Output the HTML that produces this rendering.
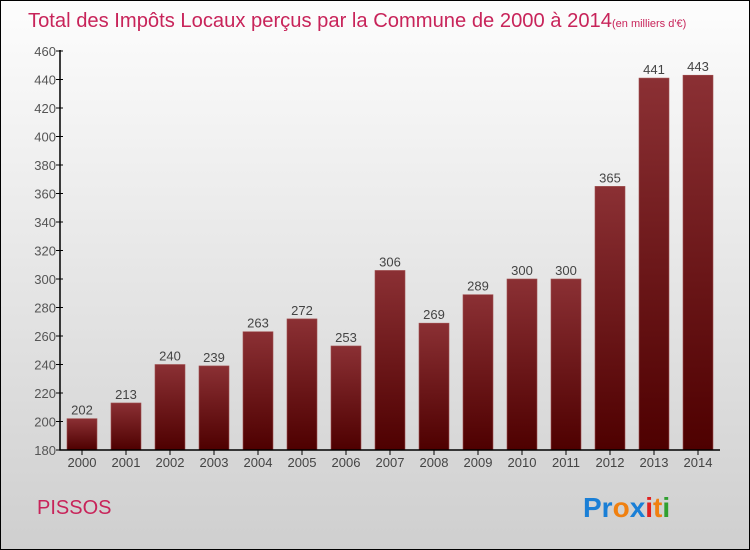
<!DOCTYPE html>
<html><head><meta charset="utf-8"><style>
body{margin:0;width:750px;height:550px;overflow:hidden;font-family:"Liberation Sans",sans-serif}
#wrap{position:absolute;left:0;top:0;width:748px;height:548px;border:1px solid #000;background:linear-gradient(#fdfdfd,#cfcfcf)}
</style></head><body>
<div id="wrap">
<svg width="750" height="550" style="position:absolute;left:-1px;top:-1px" id="svg">
<defs><linearGradient id="bg" x1="0" y1="0" x2="0" y2="1"><stop offset="0" stop-color="#8b3034"/><stop offset="1" stop-color="#4e0000"/></linearGradient></defs>
<text x="28" y="27" font-size="20.5" fill="#c8245a"><tspan textLength="584" lengthAdjust="spacingAndGlyphs">Total des Impôts Locaux perçus par la Commune de 2000 à 2014</tspan><tspan font-size="11">(en milliers d'€)</tspan></text>
<text x="37" y="514" font-size="20" fill="#c8245a">PISSOS</text>
<text x="583" y="517" font-size="28" font-weight="bold"><tspan fill="#1a7fd6">Pr</tspan><tspan fill="#f08010">o</tspan><tspan fill="#1a7fd6">x</tspan><tspan fill="#e02020">i</tspan><tspan fill="#f08010">t</tspan><tspan fill="#30a030">i</tspan></text>
<g id="g"></g>
</svg></div>
<script>
const years=["2000","2001","2002","2003","2004","2005","2006","2007","2008","2009","2010","2011","2012","2013","2014"];
const values=[202,213,240,239,263,272,253,306,269,289,300,300,365,441,443];
const ticks=[180,200,220,240,260,280,300,320,340,360,380,400,420,440,460];
const NS="http://www.w3.org/2000/svg",g=document.getElementById('g');
const y=v=>450-(v-180)*(399/280), x=i=>82+i*44;
function mk(t,a,txt){const e=document.createElementNS(NS,t);for(const k in a)e.setAttribute(k,a[k]);if(txt!=null)e.textContent=txt;g.appendChild(e);return e;}
ticks.forEach(t=>{
 const l=mk('line',{x1:56,x2:63,y1:y(t),y2:y(t),stroke:'#000'});
 
 
 const s=mk('text',{x:56,y:y(t)+5,'font-size':13,fill:'#555','text-anchor':'end'},t);
 
 
});
values.forEach((v,i)=>{
 const r=mk('rect',{x:x(i)-15,y:y(v),width:30,height:450-y(v),fill:'url(#bg)',stroke:'#a05050','stroke-width':0.6});
 
 
 const t=mk('text',{x:x(i),y:y(v)-4,'font-size':13,fill:'#444','text-anchor':'middle'},v);
 
 
 const k=mk('line',{x1:x(i),x2:x(i),y1:450,y2:455,stroke:'#000'});
 
 
 const c=mk('text',{x:x(i),y:467,'font-size':13,fill:'#444','text-anchor':'middle'},years[i]);
 
 
});
const ax=mk('path',{d:'M60 50V450H720',stroke:'#000',fill:'none','stroke-width':1.5});


</script>
</body></html>
